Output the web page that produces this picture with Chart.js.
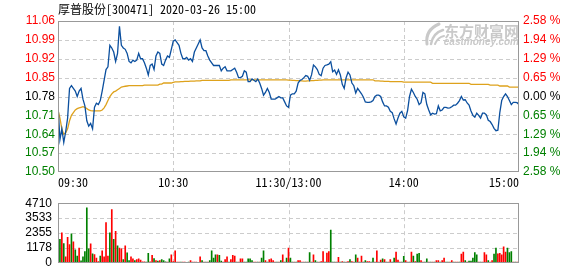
<!DOCTYPE html>
<html lang="zh">
<head>
  <meta charset="UTF-8">
  <title>厚普股份 分时</title>
  <script src="https://cdn.jsdelivr.net/npm/chart.js"></script>
  <style>
    body { margin: 0; background: #fff; }
    .wrap { position: relative; width: 578px; height: 276px; overflow: hidden; }
    .title {
      position: absolute; left: 58px; top: 1px;
      font: 12px 'Noto Sans Mono CJK SC', 'Liberation Mono', monospace;
      color: #000; white-space: pre; line-height: 15px;
    }
    canvas { position: absolute; left: 0; }
    #priceChart { top: 0; }
    #volChart { top: 190px; }
  </style>
</head>
<body>
  <div class="wrap">
    <canvas id="priceChart" width="578" height="190"></canvas>
    <canvas id="volChart" width="578" height="86"></canvas>
    <div class="title">厚普股份[300471] 2020-03-26 15:00</div>
  </div>

  <script>
    // minute index 0..240 = 09:30 .. 15:00 (lunch merged at 120)
    const timeTicks = [0, 60, 120, 180, 240];
    const timeLabels = ["09:30", "10:30", "11:30/13:00", "14:00", "15:00"];

    const priceTicks = [10.50, 10.57, 10.64, 10.71, 10.78, 10.85, 10.92, 10.99, 11.06];
    const priceLabels = ["10.50", "10.57", "10.64", "10.71", "10.78", "10.85", "10.92", "10.99", "11.06"];
    const pctLabels = ["2.58 %", "1.94 %", "1.29 %", "0.65 %", "0.00 %", "0.65 %", "1.29 %", "1.94 %", "2.58 %"];
    const tickColors = ["#008000", "#008000", "#008000", "#008000", "#000000", "#ff0000", "#ff0000", "#ff0000", "#ff0000"];

    const volTicks = [0, 1178, 2355, 3533, 4710];
    const volLabels = ["0", "1178", "2355", "3533", "4710"];

    const price = [
      10.75, 10.62, 10.66, 10.61, 10.65, 10.70, 10.81, 10.82, 10.81, 10.80,
      10.78, 10.80, 10.81, 10.77, 10.745, 10.69, 10.67, 10.68, 10.66, 10.74,
      10.755, 10.75, 10.765, 10.80, 10.84, 10.88, 10.89, 10.97, 10.96, 10.945,
      10.91, 10.94, 11.04, 10.97, 10.96, 10.955, 10.94, 10.91, 10.905, 10.915,
      10.91, 10.915, 10.94, 10.92, 10.92, 10.905, 10.885, 10.86, 10.895, 10.90,
      10.88, 10.93, 10.945, 10.94, 10.90, 10.895, 10.915, 10.93, 10.925, 10.955,
      10.985, 10.99, 10.98, 10.97, 10.94, 10.92, 10.92, 10.925, 10.915, 10.92,
      10.91, 10.945, 10.96, 10.975, 10.99, 10.96, 10.95, 10.95, 10.93, 10.915,
      10.905, 10.895, 10.895, 10.895, 10.895, 10.875, 10.885, 10.89, 10.875, 10.875,
      10.875, 10.88, 10.885, 10.87, 10.85, 10.85, 10.855, 10.875, 10.87, 10.835,
      10.835, 10.845, 10.84, 10.835, 10.845, 10.83, 10.81, 10.785, 10.795, 10.81,
      10.795, 10.77, 10.77, 10.77, 10.775, 10.78, 10.775, 10.775, 10.76, 10.745,
      10.74, 10.785, 10.79, 10.79, 10.80, 10.83, 10.84, 10.843, 10.85, 10.858,
      10.855, 10.84, 10.86, 10.897, 10.89, 10.88, 10.862, 10.857, 10.885, 10.895,
      10.897, 10.90, 10.909, 10.872, 10.878, 10.862, 10.879, 10.86, 10.825, 10.81,
      10.85, 10.87, 10.86, 10.83, 10.82, 10.793, 10.81, 10.80, 10.79, 10.777,
      10.76, 10.758, 10.758, 10.76, 10.765, 10.78, 10.785, 10.785, 10.78, 10.76,
      10.745, 10.745, 10.74, 10.725, 10.72, 10.697, 10.678, 10.70, 10.718, 10.725,
      10.705, 10.70, 10.728, 10.78, 10.807, 10.795, 10.78, 10.77, 10.75, 10.757,
      10.795, 10.79, 10.75, 10.73, 10.712, 10.718, 10.715, 10.716, 10.745, 10.727,
      10.73, 10.74, 10.74, 10.737, 10.738, 10.742, 10.748, 10.748, 10.755, 10.765,
      10.78, 10.767, 10.768, 10.756, 10.748, 10.726, 10.71, 10.703, 10.718, 10.71,
      10.70, 10.718, 10.718, 10.712, 10.692, 10.687, 10.676, 10.662, 10.653, 10.655,
      10.72, 10.765, 10.78, 10.79, 10.78, 10.765, 10.75, 10.758, 10.758, 10.757,
      10.75
    ];

    const avgPrice = [
      10.73, 10.70, 10.66, 10.64, 10.645, 10.66, 10.69, 10.71, 10.72, 10.73,
      10.735, 10.738, 10.74, 10.742, 10.74, 10.735, 10.73, 10.728, 10.727, 10.727,
      10.727, 10.727, 10.727, 10.73, 10.738, 10.75, 10.765, 10.78, 10.79, 10.797,
      10.80, 10.805, 10.81, 10.815, 10.817, 10.818, 10.819, 10.82, 10.82, 10.82,
      10.82, 10.82, 10.82, 10.82, 10.82, 10.822, 10.822, 10.822, 10.822, 10.822,
      10.822, 10.822, 10.822, 10.826, 10.826, 10.83, 10.83, 10.83, 10.83, 10.83,
      10.832, 10.834, 10.834, 10.834, 10.835, 10.835, 10.836, 10.836, 10.836, 10.837,
      10.837, 10.837, 10.838, 10.838, 10.838, 10.84, 10.84, 10.84, 10.84, 10.84,
      10.84, 10.84, 10.84, 10.84, 10.84, 10.84, 10.84, 10.84, 10.84, 10.84,
      10.842, 10.842, 10.842, 10.842, 10.842, 10.842, 10.842, 10.842, 10.842, 10.842,
      10.842, 10.842, 10.842, 10.842, 10.842, 10.842, 10.842, 10.842, 10.842, 10.842,
      10.842, 10.842, 10.842, 10.842, 10.842, 10.842, 10.842, 10.842, 10.842, 10.842,
      10.841, 10.841, 10.840, 10.840, 10.839, 10.839, 10.838, 10.838, 10.837, 10.837,
      10.838, 10.838, 10.839, 10.839, 10.840, 10.840, 10.841, 10.841, 10.842, 10.842,
      10.842, 10.842, 10.842, 10.842, 10.842, 10.842, 10.842, 10.842, 10.842, 10.842,
      10.842, 10.842, 10.842, 10.842, 10.842, 10.842, 10.842, 10.842, 10.842, 10.842,
      10.842, 10.842, 10.842, 10.842, 10.842, 10.838, 10.838, 10.838, 10.837, 10.837,
      10.836, 10.836, 10.836, 10.835, 10.835, 10.835, 10.835, 10.835, 10.835, 10.835,
      10.833, 10.833, 10.833, 10.833, 10.833, 10.833, 10.833, 10.833, 10.833, 10.833,
      10.833, 10.833, 10.833, 10.833, 10.833, 10.829, 10.829, 10.829, 10.829, 10.829,
      10.829, 10.829, 10.829, 10.829, 10.829, 10.829, 10.829, 10.829, 10.829, 10.829,
      10.829, 10.829, 10.829, 10.829, 10.829, 10.825, 10.825, 10.825, 10.825, 10.825,
      10.825, 10.825, 10.825, 10.825, 10.825, 10.822, 10.822, 10.822, 10.822, 10.822,
      10.819, 10.819, 10.819, 10.819, 10.819, 10.815, 10.815, 10.815, 10.815, 10.815,
      10.815
    ];

    const volume = [
      0, 1846, 2374, 1527, 467, 2016, 1440, 2290, 1652, 1018,
      530, 1170, 150, 467, 890, 4350, 1100, 1500, 700, 640,
      380, 100, 530, 955, 467, 3180, 530, 2374, 4200, 1846,
      2480, 1336, 1170, 1100, 255, 1336, 785, 170, 467, 318,
      170, 255, 318, 212, 85, 85, 60, 740, 85, 594,
      340, 170, 127, 170, 255, 170, 85, 60, 318, 636,
      100, 955, 60, 50, 60, 50, 60, 40, 60, 170,
      60, 50, 60, 40, 467, 170, 60, 50, 60, 170,
      955, 380, 636, 636, 594, 127, 60, 255, 467, 60,
      255, 594, 530, 60, 60, 318, 318, 60, 60, 318,
      318, 170, 60, 60, 60, 60, 380, 955, 170, 60,
      255, 318, 170, 60, 60, 60, 170, 636, 60, 380,
      1170, 380, 60, 60, 60, 170, 170, 60, 60, 60,
      60, 810, 60, 636, 170, 60, 60, 100, 890, 60,
      763, 890, 2590, 60, 60, 60, 424, 60, 100, 60,
      60, 100, 255, 100, 60, 636, 380, 60, 530, 60,
      170, 100, 100, 60, 380, 60, 955, 60, 212, 318,
      255, 60, 60, 255, 60, 380, 850, 212, 60, 60,
      510, 170, 60, 60, 850, 530, 100, 680, 740, 170,
      60, 60, 318, 60, 60, 60, 60, 170, 170, 60,
      170, 380, 60, 60, 60, 170, 60, 60, 60, 60,
      680, 850, 170, 60, 127, 127, 380, 810, 636, 60,
      60, 60, 810, 636, 170, 60, 170, 680, 1170, 700,
      740, 636, 1270, 850, 1170, 810, 890, 60, 60, 60,
      1210
    ];

    // r = up minute (red), g = down minute (green)
    const volDir = (
      "rgrgrrrgrg" + "grgggggrgr" + "rrgrrrrgrg" + "rgrrgrggrr" +
      "grrrrrggrr" + "grgrgggrgr" + "rrrrgrrrgr" + "rrrgrgrgrg" +
      "gggrggrrrg" + "rrrgrrrggg" + "ggrrgrggrg" + "rrrrgrgrgg" +
      "rggrgrrrrg" + "rgrrggrrrg" + "rrgggrrgrg" + "rrgrrgrgrg" +
      "grrggrrrrg" + "rgrrggrrrg" + "grrgrgrggr" + "rggrgrgrrg" +
      "rrggrrgrrg" + "rrgrgggggr" + "grrrgrrggr" + "rrrrgggrgr" +
      "g"
    ).split("");

    // dashed grid on whole pixels, then the solid grey frame
    const dashedGrid = {
      id: 'dashedGrid',
      beforeDatasetsDraw(chart) {
        const a = chart.chartArea, ctx = chart.ctx;
        ctx.save();
        ctx.strokeStyle = '#cccccc';
        ctx.lineWidth = 1;
        ctx.setLineDash([4, 3]);
        chart.scales.x.ticks.forEach(t => {
          const px = Math.round(chart.scales.x.getPixelForValue(t.value)) + 0.5;
          if (px < a.left + 2 || px > a.right - 2) return;
          ctx.beginPath(); ctx.moveTo(px, a.top); ctx.lineTo(px, a.bottom); ctx.stroke();
        });
        chart.scales.y.ticks.forEach(t => {
          const py = Math.round(chart.scales.y.getPixelForValue(t.value)) + 0.5;
          if (py < a.top + 2 || py > a.bottom - 2) return;
          ctx.beginPath(); ctx.moveTo(a.left, py); ctx.lineTo(a.right, py); ctx.stroke();
        });
        ctx.restore();
      }
    };

    const frame = {
      id: 'frame',
      afterDraw(chart) {
        const a = chart.chartArea, ctx = chart.ctx;
        ctx.save();
        ctx.strokeStyle = '#999';
        ctx.lineWidth = 1;
        ctx.strokeRect(Math.round(a.left) + 0.5, Math.round(a.top) + 0.5,
          Math.round(a.right - a.left) - 1, Math.round(a.bottom - a.top) - 1);
        ctx.restore();
      }
    };

    // grey site mark in the top right corner
    const watermark = {
      id: 'watermark',
      beforeDatasetsDraw(chart) {
        const ctx = chart.ctx;
        ctx.save();
        ctx.fillStyle = '#c9c9c9';
        ctx.strokeStyle = '#c9c9c9';
        ctx.lineCap = 'round';
        ctx.lineWidth = 3;
        ctx.beginPath(); ctx.moveTo(427, 44); ctx.quadraticCurveTo(425, 30, 439, 24); ctx.stroke();
        ctx.lineWidth = 2.5;
        ctx.beginPath(); ctx.moveTo(431, 44); ctx.quadraticCurveTo(433, 33, 443, 30); ctx.stroke();
        ctx.lineWidth = 2;
        ctx.beginPath(); ctx.moveTo(435, 44); ctx.quadraticCurveTo(438, 37, 444, 36); ctx.stroke();
        ctx.textAlign = 'right';
        ctx.textBaseline = 'alphabetic';
        ctx.font = 'bold 15px "Noto Sans CJK SC"';
        ctx.fillText('东方财富网', 519, 37);
        ctx.font = 'italic bold 10px "Liberation Sans"';
        ctx.fillText('eastmoney.com', 519, 45);
        ctx.restore();
      }
    };

    const monoFont = { family: "'Noto Sans Mono CJK SC', 'Liberation Mono', monospace", size: 12 };
    const numFont = { family: "'Liberation Sans', Arial, sans-serif", size: 12 };
    const noGrid = { display: false, drawTicks: false };

    new Chart(document.getElementById('priceChart'), {
      type: 'line',
      data: {
        datasets: [
          {
            data: price.map((p, i) => ({ x: i, y: p })),
            borderColor: '#0b4f9e', borderWidth: 1.3, pointRadius: 0, tension: 0
          },
          {
            data: avgPrice.map((p, i) => ({ x: i, y: p })),
            borderColor: '#dea21c', borderWidth: 1.3, pointRadius: 0, tension: 0
          }
        ]
      },
      options: {
        responsive: false, animation: false, events: [],
        layout: { padding: { top: 21, left: 0, right: 0, bottom: 0 } },
        plugins: { legend: { display: false }, tooltip: { enabled: false } },
        scales: {
          x: {
            type: 'linear', min: 0, max: 240,
            afterBuildTicks: s => { s.ticks = timeTicks.map(v => ({ value: v })); },
            afterFit: s => { s.height = 18; },
            ticks: {
              callback: (v, i) => timeLabels[i], align: 'inner', autoSkip: false,
              maxRotation: 0, padding: 3, color: '#000', font: monoFont
            },
            grid: noGrid, border: { display: false }
          },
          y: {
            position: 'left', min: 10.50, max: 11.06,
            afterBuildTicks: s => { s.ticks = priceTicks.map(v => ({ value: v })); },
            afterFit: s => { s.width = 58; },
            ticks: {
              callback: (v, i) => priceLabels[i], padding: 3, autoSkip: false,
              color: c => tickColors[c.index], font: numFont
            },
            grid: noGrid, border: { display: false }
          },
          y2: {
            position: 'right', min: 10.50, max: 11.06,
            afterBuildTicks: s => { s.ticks = priceTicks.map(v => ({ value: v })); },
            afterFit: s => { s.width = 59; },
            ticks: {
              callback: (v, i) => pctLabels[i], padding: 4, autoSkip: false,
              color: c => tickColors[c.index], font: numFont
            },
            grid: noGrid, border: { display: false }
          }
        }
      },
      plugins: [dashedGrid, watermark, frame]
    });

    new Chart(document.getElementById('volChart'), {
      type: 'bar',
      data: {
        datasets: [{
          data: volume.map((v, i) => ({ x: i, y: v })),
          backgroundColor: volDir.map(d => d === 'r' ? '#ff0000' : '#008000'),
          barThickness: 1
        }]
      },
      options: {
        responsive: false, animation: false, events: [],
        layout: { padding: { top: 6, left: 0, right: 59, bottom: 0 } },
        plugins: { legend: { display: false }, tooltip: { enabled: false } },
        scales: {
          x: {
            type: 'linear', min: 0, max: 240, offset: false,
            afterBuildTicks: s => { s.ticks = timeTicks.map(v => ({ value: v })); },
            afterFit: s => { s.height = 6; },
            ticks: { display: false },
            grid: noGrid, border: { display: false }
          },
          y: {
            min: 0, max: 4710,
            afterBuildTicks: s => { s.ticks = volTicks.map(v => ({ value: v })); },
            afterFit: s => { s.width = 58; },
            ticks: { callback: (v, i) => volLabels[i], padding: 6, autoSkip: false, color: '#000', font: numFont },
            grid: noGrid, border: { display: false }
          }
        }
      },
      plugins: [dashedGrid, frame]
    });
  </script>
</body>
</html>
